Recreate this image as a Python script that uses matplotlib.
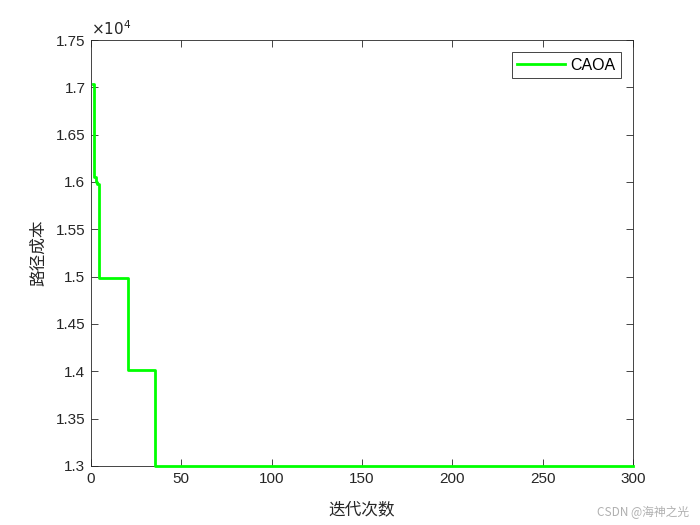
import matplotlib
matplotlib.use("Agg")
import matplotlib.pyplot as plt
import numpy as np

# ---- data (path cost per iteration) ----
early_iters = list(range(1, 38))
early_cost = [17030, 16050, 16000, 15980, 14985, 14985, 14985, 14985, 14985, 14985,
              14985, 14985, 14985, 14985, 14985, 14985, 14985, 14985, 14985, 14985,
              14010, 14010, 14010, 14010, 14010, 14010, 14010, 14010, 14010, 14010,
              14010, 14010, 14010, 14010, 14010, 13003, 13003]
final_cost = 13003
n_iter = 300
series_name = "CAOA"
xlabel = "迭代次数"
ylabel = "路径成本"
xticks = [0, 50, 100, 150, 200, 250, 300]
yticks = [1.3, 1.35, 1.4, 1.45, 1.5, 1.55, 1.6, 1.65, 1.7, 1.75]
ytick_labels = ["1.3", "1.35", "1.4", "1.45", "1.5", "1.55", "1.6", "1.65", "1.7", "1.75"]

iters = np.array(early_iters + list(range(early_iters[-1] + 1, n_iter + 1)))
cost = np.array(early_cost + [final_cost] * (n_iter - early_iters[-1]))

plt.rcParams['font.family'] = ['Liberation Sans', 'Noto Sans CJK SC', 'DejaVu Sans']
axc = '#262626'

fig = plt.figure(figsize=(7, 5.25), dpi=100)
ax = fig.add_axes([0.13, 0.1124, 0.7743, 0.8114])
ax.plot(iters, cost / 1e4, color='#00ff00', lw=2, label=series_name, zorder=5,
        clip_on=False, drawstyle='steps-mid')

ax.set_xlim(0, 300)
ax.set_ylim(1.3, 1.75)
ax.set_xticks(xticks)
ax.set_yticks(yticks)
ax.set_yticklabels(ytick_labels)
ax.tick_params(direction='in', top=True, right=True, length=5, width=0.6,
               labelsize=11, colors=axc, pad=4)
for s in ax.spines.values():
    s.set_color(axc)
    s.set_linewidth(0.6)

ax.set_xlabel(xlabel, fontsize=12, family=['Noto Sans CJK SC'], color=axc, labelpad=11)
ax.set_ylabel(ylabel, fontsize=12, family=['Noto Sans CJK SC'], color=axc, labelpad=6)

ax.text(0.0, 1.005, r'$\times10^{4}$', transform=ax.transAxes, fontsize=11,
        color=axc, ha='left', va='bottom')

leg = ax.legend(loc='upper right', bbox_to_anchor=(0.977, 0.972), fancybox=False,
                edgecolor=axc, framealpha=1, fontsize=11.5, handlelength=3.0,
                borderpad=0.35, handletextpad=0.3, borderaxespad=0)
leg.get_frame().set_linewidth(0.6)

fig.text(0.985, 0.012, "CSDN @海神之光", ha='right', va='bottom', fontsize=8.5,
         color='#b0b0b0', family=['Noto Sans CJK SC', 'DejaVu Sans'])

fig.savefig("out.png", dpi=100)
